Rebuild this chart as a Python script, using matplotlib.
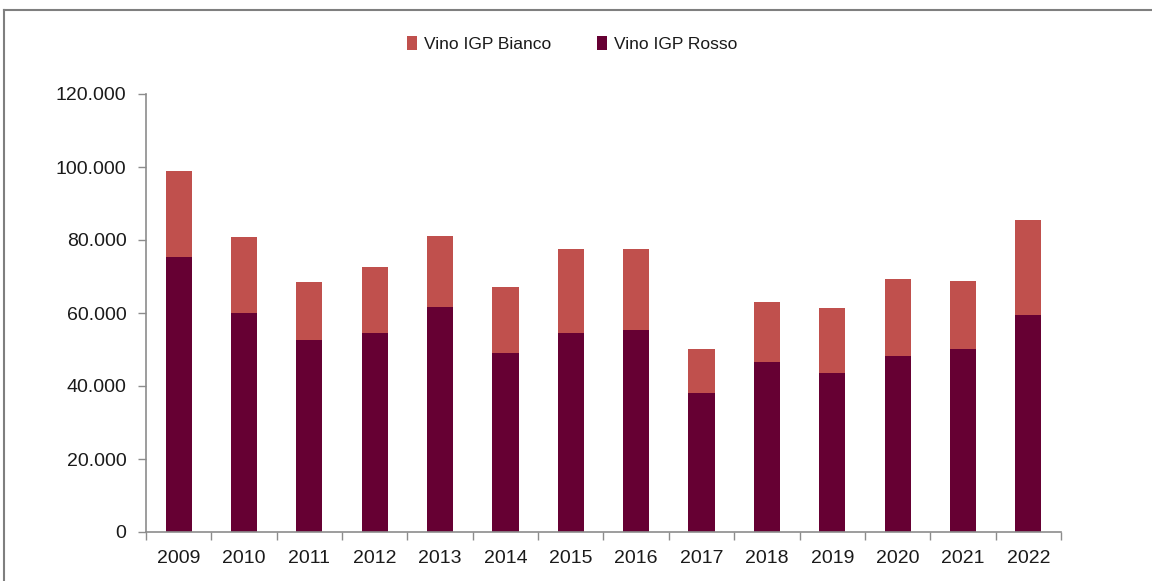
import numpy as np
import matplotlib.pyplot as plt
from matplotlib.ticker import FuncFormatter, FixedLocator
from matplotlib.lines import Line2D

plt.rcParams['font.family'] = ['Liberation Sans', 'DejaVu Sans']

years = ['2009', '2010', '2011', '2012', '2013', '2014', '2015',
         '2016', '2017', '2018', '2019', '2020', '2021', '2022']
rosso = [75300, 60000, 52500, 54500, 61700, 49000, 54500,
         55300, 38100, 46700, 43500, 48200, 50200, 59500]
totale = [98800, 80800, 68400, 72700, 81100, 67000, 77600,
          77400, 50200, 63000, 61400, 69300, 68700, 85400]
bianco = [t - r for t, r in zip(totale, rosso)]

col_rosso = '#660033'
col_bianco = '#C0504D'
grey = '#8C8C8C'

fig = plt.figure(figsize=(11.52, 5.81), dpi=100)
ax = fig.add_axes([146/1152, 1 - 532/581, (1061-146)/1152, (532-94)/581])

x = np.arange(len(years))
ax.bar(x, rosso, width=0.4, color=col_rosso, label='Vino IGP Rosso')
ax.bar(x, bianco, width=0.4, bottom=rosso, color=col_bianco, label='Vino IGP Bianco')

ax.set_xlim(-0.5, len(years) - 0.5)
ax.set_ylim(0, 120000)
ax.set_yticks(np.arange(0, 120001, 20000))
ax.yaxis.set_major_formatter(FuncFormatter(lambda v, p: f'{int(v):,}'.replace(',', '.')))
ax.set_xticks(x)
ax.set_xticklabels(years)
ax.xaxis.set_minor_locator(FixedLocator(np.arange(-0.5, len(years), 1.0)))
ax.tick_params(axis='x', which='major', length=0, pad=13, labelsize=14, colors='#1a1a1a')
ax.tick_params(axis='x', which='minor', length=6, color=grey, width=1)
ax.tick_params(axis='y', length=6, color=grey, width=1, pad=8, labelsize=14, labelcolor='#1a1a1a')

for s in ['top', 'right']:
    ax.spines[s].set_visible(False)
for s in ['left', 'bottom']:
    ax.spines[s].set_color(grey)
    ax.spines[s].set_linewidth(1.2)

h, l = ax.get_legend_handles_labels()
fig.legend(h[::-1], l[::-1], loc='center', bbox_to_anchor=(572/1152, 1 - 44/581),
           ncol=2, frameon=False, fontsize=12.5, handlelength=0.6, handleheight=0.9,
           handletextpad=0.4, columnspacing=2.6, labelcolor='#1a1a1a')

# outer frame
fig.add_artist(Line2D([4/1152, 1], [1 - 10/581, 1 - 10/581], color='#7F7F7F', lw=1.5))
fig.add_artist(Line2D([4/1152, 4/1152], [0, 1 - 10/581], color='#7F7F7F', lw=1.5))

fig.savefig('out.png', dpi=100)
